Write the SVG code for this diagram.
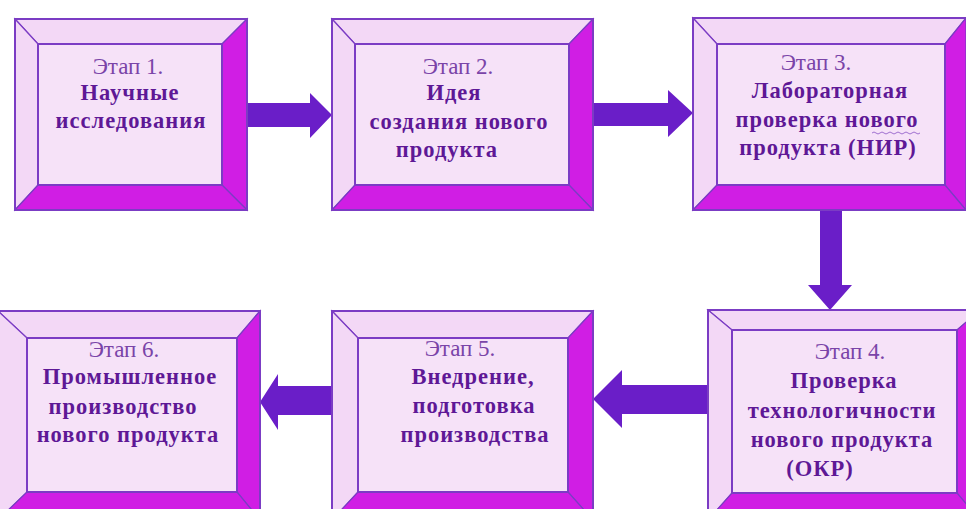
<svg xmlns="http://www.w3.org/2000/svg" width="966" height="509" viewBox="0 0 966 509">
  <style>
    .face { fill: #f6e2f8; stroke: #7b3cc4; stroke-width: 2; }
    .lite { fill: #f3d8f6; stroke: #7b3cc4; stroke-width: 1.2; }
    .dark { fill: #d01ee4; stroke: #7b3cc4; stroke-width: 1.2; }
    .frame { fill: none; stroke: #7b3cc4; stroke-width: 2; }
    .arrow { fill: #6a1ec8; }
    text { font-family: "Liberation Serif", "Times New Roman", serif; text-anchor: middle; }
    .step { font-size: 23px; fill: #7a44a8; }
    .title { font-size: 22.5px; font-weight: bold; fill: #5e1896; letter-spacing: 1px; }
    .wave { fill: none; stroke: #a070d0; stroke-width: 1; }
  </style>

  <!-- connectors -->
  <g id="connectors">
    <polygon class="arrow" points="247,103 310,103 310,93 332,115 310,138 310,127 247,127"/>
    <polygon class="arrow" points="593,103 668,103 668,90 693,113 668,137 668,126 593,126"/>
    <polygon class="arrow" points="820,210 842,210 842,285 852,285 830,310 808,285 820,285"/>
    <polygon class="arrow" points="708,385 622,385 622,370 593,399 622,428 622,414 708,414"/>
    <polygon class="arrow" points="332,386 278,386 278,374 260,402 278,430 278,415 332,415"/>
  </g>

  <!-- stage 1 -->
  <g id="stage1">
    <polygon class="lite" points="15,19 247,19 222,44 38,44"/>
    <polygon class="lite" points="15,19 38,44 38,185 15,210"/>
    <polygon class="dark" points="247,19 247,210 222,185 222,44"/>
    <polygon class="dark" points="15,210 247,210 222,185 38,185"/>
    <rect class="face" x="38" y="44" width="184" height="141"/>
    <rect class="frame" x="15" y="19" width="232" height="191"/>
    <text class="step" x="128" y="74">Этап 1.</text>
    <text class="title" x="130" y="100">Научные</text>
    <text class="title" x="131" y="128">исследования</text>
  </g>

  <!-- stage 2 -->
  <g id="stage2">
    <polygon class="lite" points="332,19 593,19 569,44 355,44"/>
    <polygon class="lite" points="332,19 355,44 355,185 332,210"/>
    <polygon class="dark" points="593,19 593,210 569,185 569,44"/>
    <polygon class="dark" points="332,210 593,210 569,185 355,185"/>
    <rect class="face" x="355" y="44" width="214" height="141"/>
    <rect class="frame" x="332" y="19" width="261" height="191"/>
    <text class="step" x="458" y="74">Этап 2.</text>
    <text class="title" x="454" y="100">Идея</text>
    <text class="title" x="459" y="129">создания нового</text>
    <text class="title" x="447" y="157">продукта</text>
  </g>

  <!-- stage 3 -->
  <g id="stage3">
    <polygon class="lite" points="693,18 966,18 945,44 717,44"/>
    <polygon class="lite" points="693,18 717,44 717,185 693,210"/>
    <polygon class="dark" points="966,18 966,210 945,185 945,44"/>
    <polygon class="dark" points="693,210 966,210 945,185 717,185"/>
    <rect class="face" x="717" y="44" width="228" height="141"/>
    <rect class="frame" x="693" y="18" width="280" height="192"/>
    <text class="step" x="816" y="70">Этап 3.</text>
    <text class="title" x="830" y="98">Лабораторная</text>
    <text class="title" x="827" y="127">проверка нового</text>
    <path class="wave" d="M872,133 q2,-2 4,0 t4,0 t4,0 t4,0 t4,0 t4,0 t4,0 t4,0 t4,0 t4,0 t4,0 t4,0"/>
    <text class="title" x="828" y="155">продукта (НИР)</text>
  </g>

  <!-- stage 4 -->
  <g id="stage4">
    <polygon class="lite" points="708,310 980,310 957,330 732,330"/>
    <polygon class="lite" points="708,310 732,330 732,493 708,520"/>
    <polygon class="dark" points="980,310 980,520 957,493 957,330"/>
    <polygon class="dark" points="708,520 980,520 957,493 732,493"/>
    <rect class="face" x="732" y="330" width="225" height="163"/>
    <rect class="frame" x="708" y="310" width="272" height="210"/>
    <text class="step" x="850" y="359">Этап 4.</text>
    <text class="title" x="844" y="388">Проверка</text>
    <text class="title" x="842" y="418">технологичности</text>
    <text class="title" x="842" y="447">нового продукта</text>
    <text class="title" x="820" y="476">(ОКР)</text>
  </g>

  <!-- stage 5 -->
  <g id="stage5">
    <polygon class="lite" points="332,311 593,311 568,338 358,338"/>
    <polygon class="lite" points="332,311 358,338 358,492 332,520"/>
    <polygon class="dark" points="593,311 593,520 568,492 568,338"/>
    <polygon class="dark" points="332,520 593,520 568,492 358,492"/>
    <rect class="face" x="358" y="338" width="210" height="154"/>
    <rect class="frame" x="332" y="311" width="261" height="209"/>
    <text class="step" x="460" y="356">Этап 5.</text>
    <text class="title" x="473" y="384">Внедрение,</text>
    <text class="title" x="474" y="413">подготовка</text>
    <text class="title" x="475" y="442">производства</text>
  </g>

  <!-- stage 6 -->
  <g id="stage6">
    <polygon class="lite" points="-2,311 260,311 237,338 27,338"/>
    <polygon class="lite" points="-2,311 27,338 27,492 -2,520"/>
    <polygon class="dark" points="260,311 260,520 237,492 237,338"/>
    <polygon class="dark" points="-2,520 260,520 237,492 27,492"/>
    <rect class="face" x="27" y="338" width="210" height="154"/>
    <rect class="frame" x="-2" y="311" width="262" height="209"/>
    <text class="step" x="124" y="357">Этап 6.</text>
    <text class="title" x="130" y="384">Промышленное</text>
    <text class="title" x="123" y="414">производство</text>
    <text class="title" x="128" y="442">нового продукта</text>
  </g>
</svg>
